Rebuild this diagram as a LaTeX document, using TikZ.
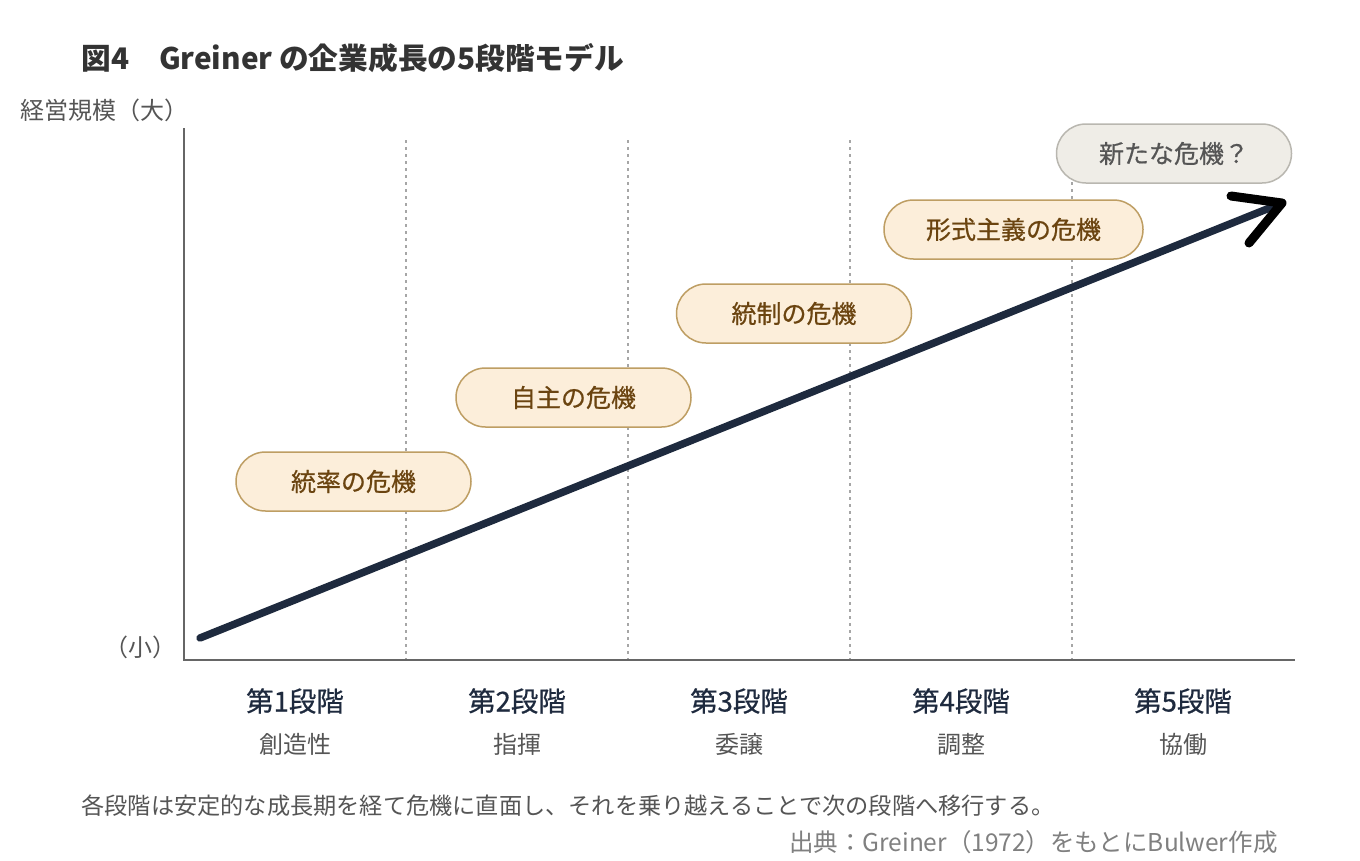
\documentclass[tikz,border=0pt]{standalone}
\usepackage{fontspec}
\setmainfont{Noto Sans CJK JP}
\newfontfamily\medfont[FakeBold=0.6]{Noto Sans CJK JP}
\usetikzlibrary{positioning}
\definecolor{navy}{HTML}{1E2A3E}
\definecolor{crisisfill}{HTML}{FCEEDA}
\definecolor{crisisdraw}{HTML}{BE9E63}
\definecolor{crisistext}{HTML}{6B4410}
\definecolor{newfill}{HTML}{EFEDE7}
\definecolor{newdraw}{HTML}{B9B7B0}
\definecolor{textgray}{HTML}{555555}

\begin{document}
\begin{tikzpicture}[x=1pt,y=-1pt,
  crisis node/.style={rectangle,rounded corners=29.5pt,fill=crisisfill,draw=crisisdraw,line width=1.5pt,
    minimum width=235pt,minimum height=59pt,font=\medfont\fontsize{25}{29}\selectfont,text=crisistext},
  new node/.style={crisis node,fill=newfill,draw=newdraw,text=textgray},
  stage node/.style={font=\medfont\fontsize{27.5}{32}\selectfont,text=navy},
  sub node/.style={font=\fontsize{24}{28}\selectfont,text=textgray},
  sep line/.style={draw=gray!70,line width=1.3pt,dash pattern=on 3pt off 4pt}]

  \useasboundingbox (0,0) rectangle (1360,860);
  \fill[white] (0,0) rectangle (1360,860);

  % titles
  \node[anchor=west,font=\fontsize{29.7}{34}\selectfont\bfseries,text=black!80] (title) at (78,58) {図4　Greiner の企業成長の5段階モデル};
  \node[anchor=west,font=\fontsize{24}{28}\selectfont,text=textgray] (ybig) at (17,110) {経営規模（大）};
  \node[anchor=east,font=\fontsize{24}{28}\selectfont,text=textgray] (ysmall) at (180,647) {（小）};

  % axes and stage borders
  \coordinate (top) at (184,128);
  \coordinate (origin) at (184,660);
  \coordinate (right) at (1295,660);
  \draw[sep line] (406,140) -- (406,660);
  \draw[sep line] (628,140) -- (628,660);
  \draw[sep line] (850,140) -- (850,660);
  \draw[sep line] (1072,140) -- (1072,660);
  \draw[gray!80!black,line width=1.3pt] (top) -- (origin) -- (right);

  % growth line
  \coordinate (start) at (200,638);
  \coordinate (tip) at (1282,203);
  \coordinate (barbA) at (1231,196);
  \coordinate (barbB) at (1249,243);
  \draw[navy,line width=7.5pt,line cap=round] (start) -- (tip);
  \draw[black,line width=9pt,line cap=round,line join=round] (barbA) -- (tip) -- (barbB);

  % crises
  \node[crisis node] (c1) at (353.5,481.5) {統率の危機};
  \node[crisis node] (c2) at (573.5,397.5) {自主の危機};
  \node[crisis node] (c3) at (794,313.5) {統制の危機};
  \node[crisis node,minimum width=259pt] (c4) at (1013.5,229.5) {形式主義の危機};
  \node[new node] (c5) at (1174,153.5) {新たな危機？};

  % stages
  \node[stage node] (s1) at (295,701) {第1段階};
  \node[stage node] (s2) at (517,701) {第2段階};
  \node[stage node] (s3) at (739,701) {第3段階};
  \node[stage node] (s4) at (961,701) {第4段階};
  \node[stage node] (s5) at (1183,701) {第5段階};
  \node[sub node] (t1) at (295,744) {創造性};
  \node[sub node] (t2) at (517,744) {指揮};
  \node[sub node] (t3) at (739,744) {委譲};
  \node[sub node] (t4) at (961,744) {調整};
  \node[sub node] (t5) at (1183,744) {協働};

  % notes
  \node[anchor=west,font=\fontsize{23.2}{27}\selectfont,text=textgray] (note) at (78,806) {各段階は安定的な成長期を経て危機に直面し、それを乗り越えることで次の段階へ移行する。};
  \node[anchor=east,font=\fontsize{24.5}{28}\selectfont,text=gray] (source) at (1281,842) {出典：Greiner（1972）をもとにBulwer作成};
\end{tikzpicture}
\end{document}
